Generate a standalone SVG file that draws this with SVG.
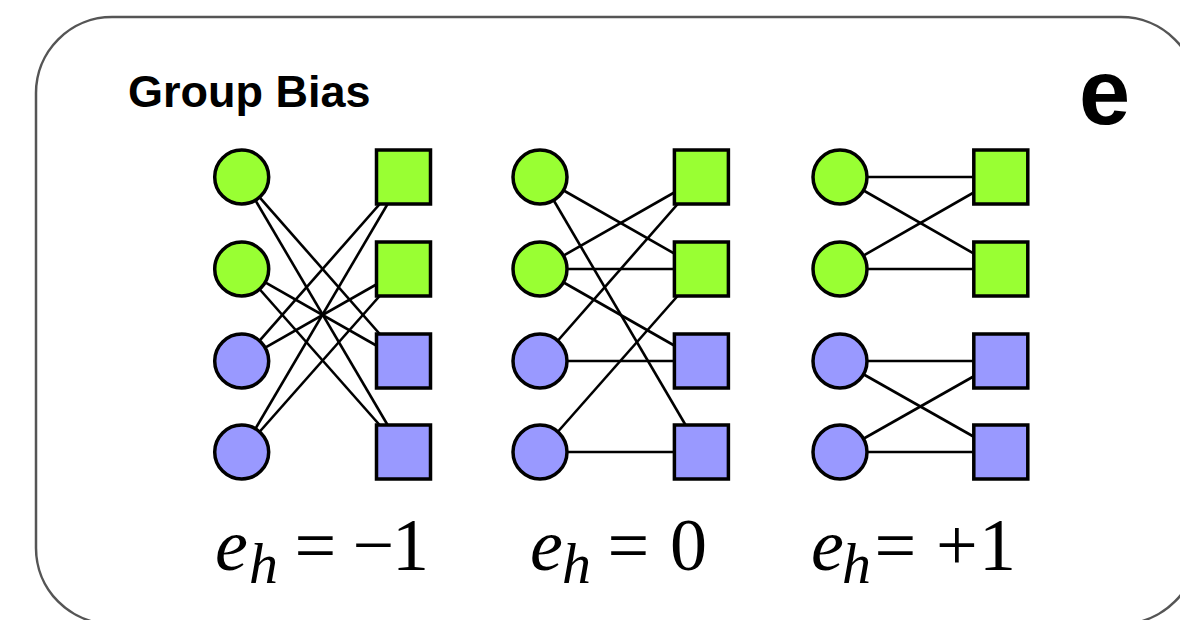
<svg xmlns="http://www.w3.org/2000/svg" width="1180" height="620" viewBox="0 0 1180 620">
<style>
.g{fill:#99ff33;stroke:#000;stroke-width:3.5}
.b{fill:#9999ff;stroke:#000;stroke-width:3.5}
.e line{stroke:#000;stroke-width:2.6}
.t{font-family:"Liberation Sans",Arial,sans-serif;font-weight:bold;fill:#000}
.m{font-family:"Liberation Serif","Times New Roman",serif;font-size:74px;fill:#000}
.i{font-style:italic}
.s{font-size:58px}
</style>
<rect x="36" y="17" width="1161" height="607" rx="76" ry="76" fill="#fff" stroke="#555" stroke-width="2.5"/>
<text class="t" x="128" y="107" font-size="45">Group Bias</text>
<text class="t" x="1079" y="124" font-size="92">e</text>

<g id="connectors" class="e">
  <!-- panel 1 -->
  <line x1="241.7" y1="177" x2="403.5" y2="361"/>
  <line x1="241.7" y1="177" x2="403.5" y2="452"/>
  <line x1="241.7" y1="269" x2="403.5" y2="361"/>
  <line x1="241.7" y1="269" x2="403.5" y2="452"/>
  <line x1="241.7" y1="361" x2="403.5" y2="177"/>
  <line x1="241.7" y1="361" x2="403.5" y2="269"/>
  <line x1="241.7" y1="452" x2="403.5" y2="177"/>
  <line x1="241.7" y1="452" x2="403.5" y2="269"/>
  <!-- panel 2 -->
  <line x1="540" y1="177" x2="701.4" y2="269"/>
  <line x1="540" y1="177" x2="701.4" y2="452"/>
  <line x1="540" y1="269" x2="701.4" y2="177"/>
  <line x1="540" y1="269" x2="701.4" y2="269"/>
  <line x1="540" y1="269" x2="701.4" y2="361"/>
  <line x1="540" y1="361" x2="701.4" y2="177"/>
  <line x1="540" y1="361" x2="701.4" y2="361"/>
  <line x1="540" y1="452" x2="701.4" y2="269"/>
  <line x1="540" y1="452" x2="701.4" y2="452"/>
  <!-- panel 3 -->
  <line x1="840" y1="177" x2="1000.8" y2="177"/>
  <line x1="840" y1="177" x2="1000.8" y2="269"/>
  <line x1="840" y1="269" x2="1000.8" y2="177"/>
  <line x1="840" y1="269" x2="1000.8" y2="269"/>
  <line x1="840" y1="361" x2="1000.8" y2="361"/>
  <line x1="840" y1="361" x2="1000.8" y2="452"/>
  <line x1="840" y1="452" x2="1000.8" y2="361"/>
  <line x1="840" y1="452" x2="1000.8" y2="452"/>
</g>

<!-- panel 1 nodes -->
<g id="p1-c1"><circle class="g" cx="241.7" cy="177" r="27"/></g>
<g id="p1-c2"><circle class="g" cx="241.7" cy="269" r="27"/></g>
<g id="p1-c3"><circle class="b" cx="241.7" cy="361" r="27"/></g>
<g id="p1-c4"><circle class="b" cx="241.7" cy="452" r="27"/></g>
<g id="p1-s1"><rect class="g" x="376.5" y="150" width="54" height="54"/></g>
<g id="p1-s2"><rect class="g" x="376.5" y="242" width="54" height="54"/></g>
<g id="p1-s3"><rect class="b" x="376.5" y="334" width="54" height="54"/></g>
<g id="p1-s4"><rect class="b" x="376.5" y="425" width="54" height="54"/></g>
<!-- panel 2 nodes -->
<g id="p2-c1"><circle class="g" cx="540" cy="177" r="27"/></g>
<g id="p2-c2"><circle class="g" cx="540" cy="269" r="27"/></g>
<g id="p2-c3"><circle class="b" cx="540" cy="361" r="27"/></g>
<g id="p2-c4"><circle class="b" cx="540" cy="452" r="27"/></g>
<g id="p2-s1"><rect class="g" x="674.4" y="150" width="54" height="54"/></g>
<g id="p2-s2"><rect class="g" x="674.4" y="242" width="54" height="54"/></g>
<g id="p2-s3"><rect class="b" x="674.4" y="334" width="54" height="54"/></g>
<g id="p2-s4"><rect class="b" x="674.4" y="425" width="54" height="54"/></g>
<!-- panel 3 nodes -->
<g id="p3-c1"><circle class="g" cx="840" cy="177" r="27"/></g>
<g id="p3-c2"><circle class="g" cx="840" cy="269" r="27"/></g>
<g id="p3-c3"><circle class="b" cx="840" cy="361" r="27"/></g>
<g id="p3-c4"><circle class="b" cx="840" cy="452" r="27"/></g>
<g id="p3-s1"><rect class="g" x="973.8" y="150" width="54" height="54"/></g>
<g id="p3-s2"><rect class="g" x="973.8" y="242" width="54" height="54"/></g>
<g id="p3-s3"><rect class="b" x="973.8" y="334" width="54" height="54"/></g>
<g id="p3-s4"><rect class="b" x="973.8" y="425" width="54" height="54"/></g>

<g id="labels">
<text class="m"><tspan class="i" x="215" y="570">e</tspan><tspan class="i s" x="249" y="583">h</tspan><tspan x="294.5" y="570">=</tspan><tspan x="352.5" y="570">−</tspan><tspan x="392" y="570">1</tspan></text>
<text class="m"><tspan class="i" x="530" y="570">e</tspan><tspan class="i s" x="562" y="583">h</tspan><tspan x="607.5" y="570">=</tspan><tspan x="670" y="570">0</tspan></text>
<text class="m"><tspan class="i" x="811" y="570">e</tspan><tspan class="i s" x="842" y="583">h</tspan><tspan x="874.5" y="570">=</tspan><tspan x="936" y="570">+</tspan><tspan x="979" y="570">1</tspan></text>
</g>
</svg>
